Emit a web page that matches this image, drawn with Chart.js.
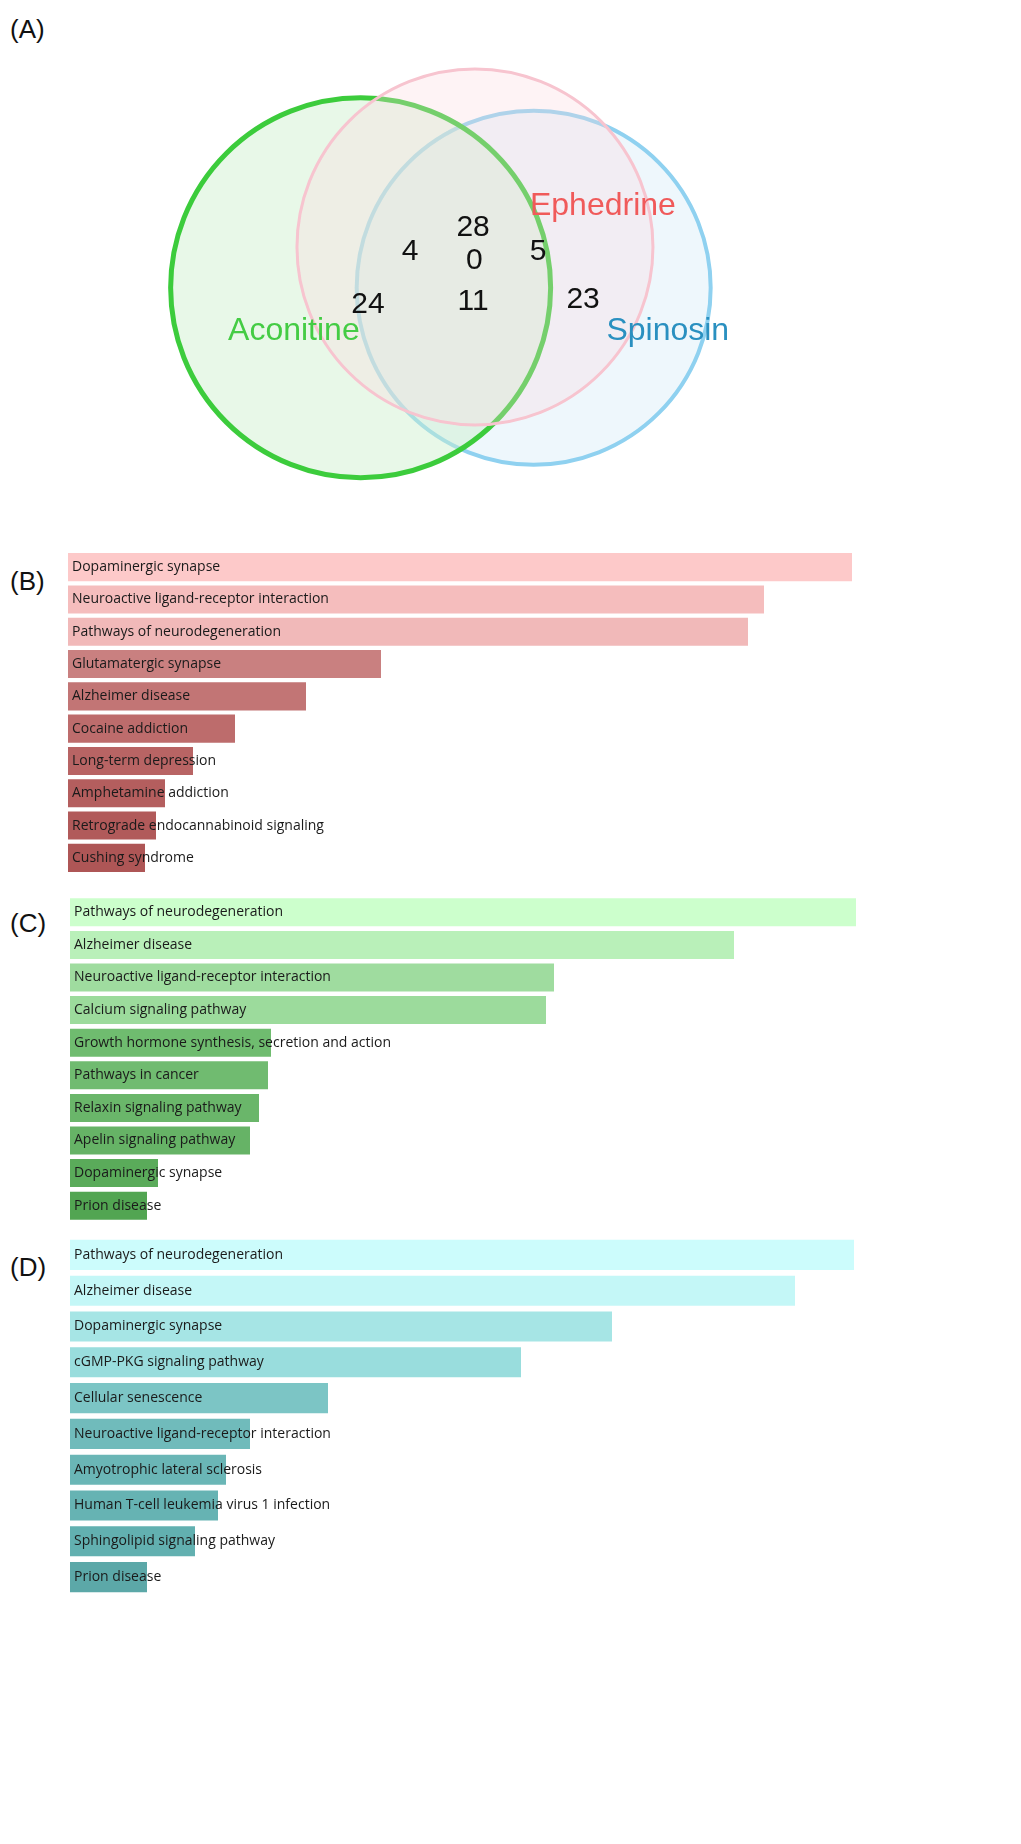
<!DOCTYPE html>
<html><head><meta charset="utf-8">
<script src="https://cdn.jsdelivr.net/npm/chart.js@4.4.1/dist/chart.umd.min.js"></script>
<style>
body{margin:0;background:#fff;width:1021px;height:1844px;position:relative;overflow:hidden}
canvas{position:absolute;display:block}
.lab{position:absolute;font-family:"Liberation Sans",Arial,sans-serif;font-size:26px;color:#111}
</style></head><body>
<div class="lab" style="left:10px;top:14px">(A)</div>
<div class="lab" style="left:10px;top:566px">(B)</div>
<div class="lab" style="left:10px;top:908px">(C)</div>
<div class="lab" style="left:10px;top:1252px">(D)</div>
<canvas id="venn" width="1021" height="540" style="left:0;top:0;width:1021px;height:540px"></canvas>
<canvas id="b" width="790" height="323" style="left:68px;top:551px;width:790px;height:323px"></canvas>
<canvas id="c" width="790" height="326" style="left:70px;top:896px;width:790px;height:326px"></canvas>
<canvas id="d" width="790" height="358" style="left:70px;top:1237px;width:790px;height:358px"></canvas>
<script>
// venn
const setNames = ['Ephedrine', 'Aconitine', 'Spinosin'];
const setCircles = [{x:453,y:187,r:178},{x:268,y:334,r:190},{x:548,y:334,r:177}];
const setStroke = ['#f7c4cf', '#3ccc3c', '#8fd1f0'];
const setFill = ['rgba(253,215,222,0.3)', 'rgba(205,240,205,0.45)', 'rgba(205,232,245,0.35)'];
const setWidth = [3, 5, 4];
const nameColor = ['#f05a5a', '#44cc44', '#2a90c0'];
const namePos = [{x:660,y:42},{x:160,y:490},{x:765,y:490}];
const regionCounts = [28, 4, 5, 0, 24, 11, 23];
const regionPos = [{x:450,y:117},{x:348,y:205},{x:555,y:205},{x:452,y:237},{x:280,y:395},{x:450,y:384},{x:628,y:377}];

// bars
const labelsB = ['Dopaminergic synapse','Neuroactive ligand-receptor interaction','Pathways of neurodegeneration','Glutamatergic synapse','Alzheimer disease','Cocaine addiction','Long-term depression','Amphetamine addiction','Retrograde endocannabinoid signaling','Cushing syndrome'];
const valuesB = [784,696,680,313,238,167,125,97,88,77];
const colorsB = ['#fdc9c9','#f5bdbd','#f1b9b9','#c98080','#c27575','#bd6c6c','#b86464','#b45e5e','#b15a5a','#ae5656'];
const labelsC = ['Pathways of neurodegeneration','Alzheimer disease','Neuroactive ligand-receptor interaction','Calcium signaling pathway','Growth hormone synthesis, secretion and action','Pathways in cancer','Relaxin signaling pathway','Apelin signaling pathway','Dopaminergic synapse','Prion disease'];
const valuesC = [786,664,484,476,201,198,189,180,88,77];
const colorsC = ['#ccffcc','#b9f0b9','#9fdc9f','#9cdb9c','#6fbc6f','#70bb70','#6ab66a','#66b366','#5aab5a','#52a552'];
const labelsD = ['Pathways of neurodegeneration','Alzheimer disease','Dopaminergic synapse','cGMP-PKG signaling pathway','Cellular senescence','Neuroactive ligand-receptor interaction','Amyotrophic lateral sclerosis','Human T-cell leukemia virus 1 infection','Sphingolipid signaling pathway','Prion disease'];
const valuesD = [784,725,542,451,258,180,156,148,125,77];
const colorsD = ['#ccfcfc','#c4f7f7','#a6e5e5','#99dddd','#7cc5c5','#70bbbb','#6ab6b6','#66b3b3','#62b0b0','#5ca8a8'];

const vennText = {
  id: 'vennText',
  afterDatasetsDraw(chart) {
    const ctx = chart.ctx, xs = chart.scales.x, ys = chart.scales.y;
    ctx.save();
    ctx.textAlign = 'center'; ctx.textBaseline = 'middle';
    ctx.font = '30px "Liberation Sans", Arial, sans-serif';
    ctx.fillStyle = '#111';
    regionCounts.forEach((n, i) => ctx.fillText(n, xs.getPixelForValue(regionPos[i].x), ys.getPixelForValue(regionPos[i].y)));
    ctx.font = '32px "Liberation Sans", Arial, sans-serif';
    setNames.forEach((s, i) => { ctx.fillStyle = nameColor[i]; ctx.fillText(s, xs.getPixelForValue(namePos[i].x), ys.getPixelForValue(namePos[i].y)); });
    ctx.restore();
  }
};

new Chart(document.getElementById('venn'), {
  type: 'bubble',
  data: {
    datasets: setNames.map((s, i) => ({
      label: s,
      data: [setCircles[i]],
      backgroundColor: setFill[i],
      borderColor: setStroke[i],
      borderWidth: setWidth[i],
      hoverRadius: 0,
      clip: false
    }))
  },
  options: {
    responsive: false, animation: false, devicePixelRatio: 1,
    layout: { padding: 0 },
    plugins: { legend: { display: false }, tooltip: { enabled: false } },
    scales: {
      x: { type: 'linear', min: 0, max: 1021, display: false },
      y: { type: 'linear', min: 0, max: 540, reverse: true, display: false }
    }
  },
  plugins: [vennText]
});

const barText = {
  id: 'barText',
  afterDatasetsDraw(chart) {
    const ctx = chart.ctx, meta = chart.getDatasetMeta(0);
    ctx.save();
    ctx.font = '14px "Open Sans", sans-serif';
    ctx.fillStyle = '#1a1a1a'; ctx.textBaseline = 'middle'; ctx.textAlign = 'left';
    meta.data.forEach((bar, i) => ctx.fillText(chart.data.labels[i], bar.base + 4, bar.y));
    ctx.restore();
  }
};

function barChart(id, labels, values, colors, pct) {
  new Chart(document.getElementById(id), {
    type: 'bar',
    data: { labels: labels, datasets: [{ data: values, backgroundColor: colors, barPercentage: pct, categoryPercentage: 1 }] },
    options: {
      indexAxis: 'y', responsive: false, animation: false, devicePixelRatio: 1,
      layout: { padding: 0 },
      plugins: { legend: { display: false }, tooltip: { enabled: false } },
      scales: { x: { min: 0, max: 790, display: false }, y: { display: false } }
    },
    plugins: [barText]
  });
}
barChart('b', labelsB, valuesB, colorsB, 0.87);
barChart('c', labelsC, valuesC, colorsC, 0.86);
barChart('d', labelsD, valuesD, colorsD, 0.84);
</script>
</body></html>
